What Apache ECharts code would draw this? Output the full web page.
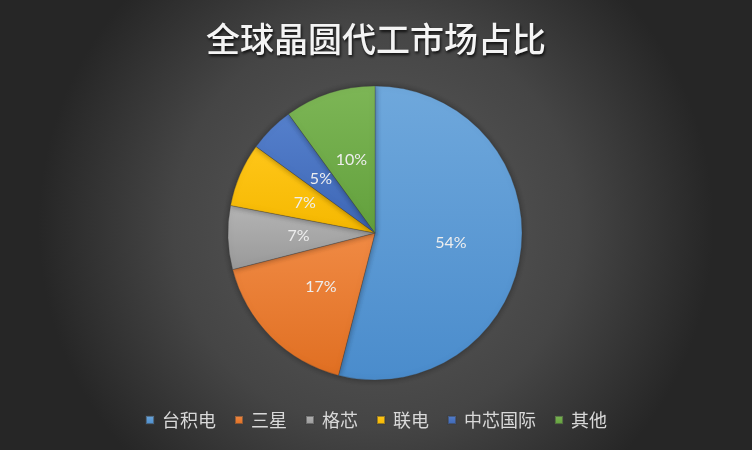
<!DOCTYPE html>
<html><head><meta charset="utf-8">
<script src="https://cdn.jsdelivr.net/npm/echarts@6/dist/echarts.min.js"></script>
<style>html,body{margin:0;padding:0;background:#333;}#c{width:752px;height:450px;}</style>
</head><body><div id="c"></div>
<script>
var categories = ['台积电','三星','格芯','联电','中芯国际','其他'];
var values = [54, 17, 7, 7, 5, 10];
var colors = [['#6fa8dc','#4a8ccc'],['#f08a44','#e06f22'],['#b4b4b4','#999999'],['#ffc619','#f5b800'],['#5580cc','#3d66b5'],['#7db656','#62a03c']];
var chart = echarts.init(document.getElementById('c'));
var data = categories.map(function(n,i){
  return {name:n, value:values[i], itemStyle:{color:new echarts.graphic.LinearGradient(0,0,0,1,[{offset:0,color:colors[i][0]},{offset:1,color:colors[i][1]}])}};
});
chart.setOption({
  backgroundColor: new echarts.graphic.RadialGradient(0.5,0.5,0.75,[{offset:0,color:'#5c5c5c'},{offset:0.6,color:'#454545'},{offset:1,color:'#262626'}]),
  color: colors.map(function(c){return c[0];}),
  title:{text:'全球晶圆代工市场占比', left:'center', top:17,
    textStyle:{color:'#f4f4f4', fontSize:34, fontWeight:500, fontFamily:'Noto Sans CJK SC', textShadowColor:'rgba(0,0,0,0.8)', textShadowBlur:3, textShadowOffsetX:1, textShadowOffsetY:2}},
  legend:{top:406, left:'center', itemWidth:8, itemHeight:8, itemGap:18, icon:'rect',
    textStyle:{color:'#d9d9d9', fontSize:18, fontFamily:'Noto Sans CJK SC', padding:[0,0,0,3]}},
  series:[{type:'pie', center:[375,233], radius:147, startAngle:90, clockwise:true,
    data:data,
    itemStyle:{borderColor:'rgba(60,60,60,0.5)', borderWidth:0.6, shadowColor:'rgba(0,0,0,0.4)', shadowBlur:6},
    label:{show:true, position:'inside', formatter:'{c}%', color:'#eeeeee', fontSize:16, fontFamily:'Lato'},
    labelLine:{show:false}, emphasis:{disabled:true}, animation:false}]
});
</script></body></html>
